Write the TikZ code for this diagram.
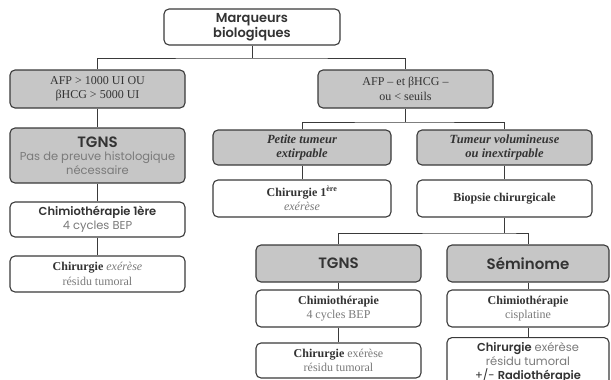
\documentclass[tikz,border=0pt]{standalone}
\usepackage{fontspec}
\setmainfont{Liberation Serif}
\newfontfamily\gothic{Poppins}[BoldFont={Poppins SemiBold}]
\definecolor{boxline}{HTML}{3A3A3A}
\definecolor{boxfill}{HTML}{C6C6C6}
\definecolor{txtdark}{HTML}{333333}
\definecolor{txtgray}{HTML}{7A7A7A}
\newcommand\gsmall{\gothic\fontsize{11.5}{13.5}\selectfont}
\begin{document}
\begin{tikzpicture}[x=1pt,y=-1pt,
  box/.style={draw=boxline, line width=1.1pt, rounded corners=5pt, fill=white,
    inner sep=0pt, align=center, text=txtdark, anchor=center},
  gbox/.style={box, fill=boxfill},
  link/.style={draw=boxline, line width=1pt},
  serifbox/.style={font=\fontsize{12}{14.5}\selectfont},
  italbox/.style={font=\bfseries\itshape\fontsize{12.5}{14.5}\selectfont},
  bigsans/.style={font=\gothic\bfseries\fontsize{15}{17}\selectfont}
]
\useasboundingbox (0,0) rectangle (611,380);
\clip (0,0) rectangle (611,380);

% top
\node[box, minimum width=176pt, minimum height=36pt, font=\gothic\bfseries\fontsize{13}{15}\selectfont]
  (top) at (252,27) {Marqueurs\\biologiques};

% level 1
\node[gbox, serifbox, minimum width=175pt, minimum height=38pt] (afpL) at (97.5,89)
  {AFP > 1000 UI OU\\βHCG > 5000 UI};
\node[gbox, serifbox, minimum width=175pt, minimum height=38pt] (afpR) at (405.5,89)
  {AFP – et βHCG –\\ou < seuils};

% left branch
\node[gbox, minimum width=175pt, minimum height=55pt, font=\gsmall] (tgnsL) at (97.5,155.5)
  {{\gothic\bfseries\fontsize{15}{16}\selectfont TGNS}\\
   {\color{txtgray}Pas de preuve histologique}\\
   {\color{txtgray}nécessaire}};
\node[box, minimum width=175pt, minimum height=35pt, font=\gsmall] (chimioL) at (97.5,219.5)
  {{\bfseries Chimiothérapie 1ère}\\
   {\color{txtgray}4 cycles BEP}};
\node[box, serifbox, minimum width=175pt, minimum height=36pt] (chirL) at (97.5,274)
  {\textbf{Chirurgie} {\color{txtgray}\itshape exérèse}\\{\color{txtgray}résidu tumoral}};

% right branch
\node[gbox, italbox, minimum width=178pt, minimum height=35pt]
  (petite) at (302,147.5) {Petite tumeur\\extirpable};
\node[gbox, italbox, minimum width=175pt, minimum height=35pt]
  (tumvol) at (504.5,147.5) {Tumeur volumineuse\\ou inextirpable};
\node[box, serifbox, minimum width=178pt, minimum height=37pt] (chir1) at (302,198.5)
  {\textbf{Chirurgie 1\textsuperscript{ère}}\\{\color{txtgray}\itshape exérèse}};
\node[box, serifbox, minimum width=175pt, minimum height=37pt] (biopsie) at (504.5,198.5)
  {\textbf{Biopsie chirurgicale}};

% bottom right
\node[gbox, bigsans, minimum width=165pt, minimum height=37pt]
  (tgnsR) at (338.5,263.5) {TGNS};
\node[gbox, bigsans, minimum width=162pt, minimum height=37pt]
  (semi) at (528,263.5) {Séminome};
\node[box, serifbox, minimum width=165pt, minimum height=37pt] (chimioR) at (338.5,308.5)
  {\textbf{Chimiothérapie}\\{\color{txtgray}4 cycles BEP}};
\node[box, serifbox, minimum width=162pt, minimum height=37pt] (chimioS) at (528,308.5)
  {\textbf{Chimiothérapie}\\{\color{txtgray}cisplatine}};
\node[box, serifbox, minimum width=165pt, minimum height=35pt] (chirR) at (338.5,360.5)
  {\textbf{Chirurgie} {\color{txtgray}exérèse}\\{\color{txtgray}résidu tumoral}};
\node[box, minimum width=162pt, minimum height=60pt, anchor=north] (chirS) at (528,337) {};
\node[font=\gothic\fontsize{11.5}{14}\selectfont, align=center, text=txtdark, anchor=north, inner sep=0pt]
  (chirStxt) at (528,342)
  {\textbf{Chirurgie} {\color{txtgray}exérèse}\\{\color{txtgray}résidu tumoral}\\+/- \textbf{Radiothérapie}};

% connectors
\coordinate (j1) at (252,58);
\coordinate (j2) at (405.5,122);
\coordinate (j3) at (504.5,233);
\draw[link] (top.south) -- (j1);
\draw[link] (afpL.north) |- (j1) -| (afpR.north);
\draw[link] (afpL) -- (tgnsL);
\draw[link] (tgnsL) -- (chimioL);
\draw[link] (chimioL) -- (chirL);
\draw[link] (afpR.south) -- (j2);
\draw[link] (petite.north) |- (j2) -| (tumvol.north);
\draw[link] (petite) -- (chir1);
\draw[link] (tumvol) -- (biopsie);
\draw[link] (biopsie.south) -- (j3);
\draw[link] (tgnsR.north) |- (j3) -| (semi.north);
\draw[link] (tgnsR) -- (chimioR);
\draw[link] (chimioR) -- (chirR);
\draw[link] (semi) -- (chimioS);
\draw[link] (chimioS) -- (chirS);
\end{tikzpicture}
\end{document}
